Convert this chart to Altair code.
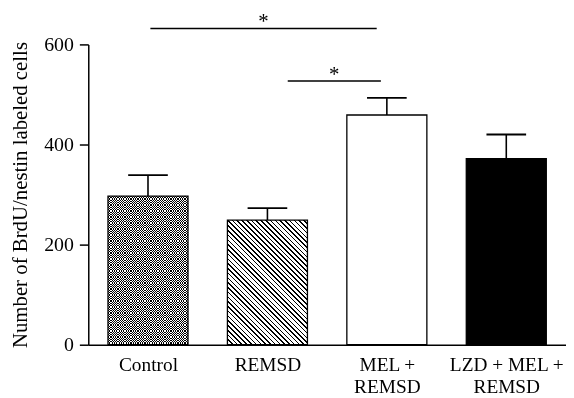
import json
import altair as alt
import pandas as pd

# ---- data ----
categories = ["Control", "REMSD", "MEL +\nREMSD", "LZD + MEL +\nREMSD"]
means = [297, 249, 459, 372]
err_top = [339, 273, 493, 420]
sig_start = [0.52, 1.67]
sig_end = [2.415, 2.45]
sig_level = [632, 527]
sig_text = ["*", "*"]
y_ticks = [0, 200, 400, 600]
y_title = "Number of BrdU/nestin labeled cells"

# ---- layout / style ----
W, H = 482, 303
YMAX = 600
BAR_HALF = 0.335
CAP_HALF = 0.166
FONT = "Liberation Serif"
FS_Y = 20
FS_X = 19.5
FS_T = 21
BLACK = "#000000"
WHITE = "#ffffff"
CLEAR = "rgba(255,255,255,0)"

pos = [i + 0.5 for i in range(len(categories))]
df = pd.DataFrame({
    "cat": categories,
    "pos": pos,
    "mean": means,
    "err": err_top,
})
df["x1"] = df["pos"] - BAR_HALF
df["x2"] = df["pos"] + BAR_HALF
df["c1"] = df["pos"] - CAP_HALF
df["c2"] = df["pos"] + CAP_HALF
df["zero"] = 0

sig = pd.DataFrame({"s": sig_start, "e": sig_end, "y": sig_level, "t": sig_text})
sig["m"] = (sig["s"] + sig["e"]) / 2

xscale = alt.Scale(domain=[0, len(categories)], nice=False, zero=False)
yscale = alt.Scale(domain=[0, YMAX], nice=False)

label_expr = ("split(" + json.dumps(categories) + "[floor(datum.value)], '\\n')")

xaxis = alt.Axis(values=pos, labelExpr=label_expr, ticks=False, title=None,
                 labelFont=FONT, labelFontSize=FS_X, labelColor=BLACK,
                 labelLineHeight=22, labelPadding=11, labelOverlap=False,
                 labelFlush=False, labelBound=False,
                 domainColor=BLACK, domainWidth=1.5, grid=False)
yaxis = alt.Axis(values=y_ticks, title=y_title, titleFont=FONT,
                 titleFontSize=FS_T, titleFontWeight="normal", titleColor=BLACK,
                 titlePadding=13, labelFont=FONT, labelFontSize=FS_Y,
                 labelColor=BLACK, labelPadding=6, tickSize=9, tickWidth=1.5,
                 tickColor=BLACK, domainColor=BLACK, domainWidth=1.5,
                 grid=False)


def X(field):
    return alt.X(f"{field}:Q", scale=xscale, axis=xaxis)


def Y(field):
    return alt.Y(f"{field}:Q", scale=yscale, axis=yaxis)


def hard_stripes(n, c_on, c_off, frac=0.5):
    stops = []
    for i in range(n):
        a = i / n
        b = (i + frac) / n
        c = (i + 1) / n
        stops += [alt.GradientStop(offset=a, color=c_on),
                  alt.GradientStop(offset=b, color=c_on),
                  alt.GradientStop(offset=b, color=c_off),
                  alt.GradientStop(offset=c, color=c_off)]
    return stops


px_per_unit = W / len(categories)
bar_w = 2 * BAR_HALF * px_per_unit

# checkerboard for bar 0
h0 = means[0] / YMAX * H
cell = 2.4
nx = max(2, round(bar_w / cell))
ny = max(2, round(h0 / cell))
vert = alt.LinearGradient(gradient="linear", x1=0, y1=0, x2=1, y2=0,
                          stops=hard_stripes(nx, BLACK, WHITE))
horiz = alt.LinearGradient(gradient="linear", x1=0, y1=0, x2=0, y2=1,
                           stops=hard_stripes(ny, WHITE, CLEAR))

# diagonal hatching for bar 1
h1 = means[1] / YMAX * H
k = (bar_w + h1) / (bar_w ** 2 + h1 ** 2)
period = 4.8
nh = max(2, round((bar_w + h1) / period))
hatch = alt.LinearGradient(gradient="linear", x1=0, y1=1,
                           x2=k * bar_w, y2=1 - k * h1,
                           stops=hard_stripes(nh, BLACK, WHITE, frac=0.33))

base = alt.Chart(df)


def bar_layer(idx, **mark):
    return base.transform_filter(alt.datum.pos == pos[idx]).mark_rect(**mark).encode(
        x=X("x1"), x2="x2", y=Y("zero"), y2="mean")


bars = [
    bar_layer(0, fill=vert),
    bar_layer(0, fill=horiz, blend="difference"),
    bar_layer(1, fill=hatch),
    bar_layer(2, fill=WHITE),
    bar_layer(3, fill=BLACK),
]

outline = base.mark_rect(fill="transparent", stroke=BLACK, strokeWidth=1.3).encode(
    x=X("x1"), x2="x2", y=Y("zero"), y2="mean")

err_v = base.mark_rule(color=BLACK, strokeWidth=1.6).encode(
    x=X("pos"), y=Y("mean"), y2="err")
err_cap = base.mark_rule(color=BLACK, strokeWidth=1.8).encode(
    x=X("c1"), x2="c2", y=Y("err"))

sig_lines = alt.Chart(sig).mark_rule(color=BLACK, strokeWidth=1.5).encode(
    x=X("s"), x2="e", y=Y("y"))
sig_stars = alt.Chart(sig).mark_text(font=FONT, fontSize=21, color=BLACK,
                                     baseline="alphabetic", dy=0).encode(
    x=X("m"), y=Y("y"), text="t:N")

chart = alt.layer(*bars, outline, err_v, err_cap, sig_lines, sig_stars).properties(
    width=W, height=H,
    autosize=alt.AutoSizeParams(type="none"),
    padding={"left": 81, "top": 35, "right": 0, "bottom": 50},
    background="white",
).configure_view(strokeWidth=0)

chart.save("out.html", embed_options={"renderer": "svg", "actions": False})
